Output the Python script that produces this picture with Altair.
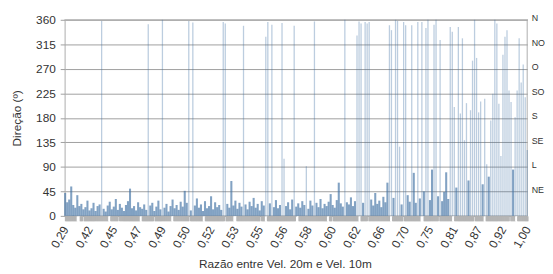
import altair as alt
import pandas as pd
import json

# Category labels shown on the x axis (sorted ratio values)
x_labels = ['0,29', '0,42', '0,45', '0,47', '0,49', '0,50', '0,52', '0,53', '0,55', '0,56',
            '0,58', '0,60', '0,62', '0,66', '0,70', '0,75', '0,81', '0,87', '0,92', '1,00']

# Wind direction (degrees) per record, in order of increasing ratio
direction = [
    42, 25, 30, 54, 20, 15, 38, 18, 22, 12,
    16, 28, 10, 14, 24, 9, 18, 21, 358, 13,
    8, 19, 26, 12, 17, 31, 11, 22, 15, 9,
    20, 27, 50, 14, 18, 10, 25, 16, 13, 21,
    11, 352, 19, 24, 9, 17, 28, 12, 360, 15,
    22, 8, 18, 30, 14, 20, 11, 26, 17, 46,
    24, 358, 10, 355, 19, 32, 15, 21, 9, 27,
    14, 18, 36, 12, 25, 16, 20, 11, 356, 353,
    22, 15, 64, 19, 28, 13, 24, 17, 349, 21,
    12, 26, 18, 33, 15, 22, 10, 27, 19, 329,
    356, 23, 351, 16, 29, 14, 20, 354, 105, 18,
    25, 12, 30, 349, 17, 23, 15, 27, 20, 91,
    13, 28, 19, 357, 24, 16, 31, 14, 22, 18,
    26, 40, 20, 15, 29, 61, 23, 17, 360, 25,
    21, 34, 18, 27, 331, 357, 353, 24, 356, 353,
    356, 30, 19, 42, 22, 28, 16, 35, 25, 61,
    350, 341, 33, 360, 358, 127, 21, 356, 350, 38,
    26, 350, 79, 24, 356, 32, 356, 45, 345, 360,
    29, 85, 351, 360, 36, 323, 27, 44, 80, 31,
    347, 338, 200, 52, 347, 188, 326, 139, 207, 65,
    194, 285, 360, 290, 190, 210, 58, 215, 95, 72,
    175, 224, 360, 353, 206, 110, 296, 329, 341, 230,
    209, 85, 181, 230, 326, 245, 278, 218, 121,
]

y_ticks = [0, 45, 90, 135, 180, 225, 270, 315, 360]
compass = ['', 'NE', 'L', 'SE', 'S', 'SO', 'O', 'NO', 'N']

n = len(direction)
step = (n - 1) // (len(x_labels) - 1)
df = pd.DataFrame({'idx': list(range(n)), 'dir': direction})

W, H = 469, 199
FONT = 'Liberation Sans'

# axis tick band (styling): dense grey ticks with periodic white gaps
tick_vals = [i * 0.5 for i in range(2 * (n - 1) + 1)]
px_per = W / (n - 1)
gaps = [(13.3 + 31.7 * k) / px_per for k in range(15)]
gap_test = ' || '.join(f'abs(datum.value-{g:.2f})<0.55' for g in gaps)

label_expr = (f"(datum.value % {step} == 0) ? {json.dumps(x_labels)}[datum.value/{step}] : ''")

x_axis = alt.Axis(
    values=tick_vals, labelExpr=label_expr, labelOverlap=False, labelAngle=-60,
    labelFontSize=12, labelColor='#333', labelPadding=6, labelFont=FONT,
    tickSize=5, tickWidth=1.6,
    tickColor=alt.ConditionalAxisColor(condition={'test': gap_test, 'value': '#ffffff'}, value='#b4b4b4'),
    domain=False, grid=False,
    title='Razão entre Vel. 20m e Vel. 10m', titleFontSize=12, titleFontWeight='normal',
    titleColor='#333', titleFont=FONT, titlePadding=9, titleX=223,
)
x_enc = alt.X('idx:Q', scale=alt.Scale(domain=[0, n - 1], nice=False, zero=False, padding=0),
              axis=x_axis)

y_scale = alt.Scale(domain=[0, 360], nice=False, padding=0)
left_axis = alt.Axis(
    values=y_ticks, grid=True, gridColor='#a0a0a0', gridWidth=1, tickSize=5, tickColor='#a0a0a0',
    domain=False, labelFontSize=12, labelColor='#333', labelPadding=5, labelFont=FONT,
    title='Direção (º)', titleFontSize=12, titleFontWeight='normal', titleColor='#333',
    titleFont=FONT, titlePadding=12,
)
right_axis = alt.Axis(
    orient='right', values=y_ticks, grid=False, ticks=False, domain=False,
    labelExpr=f"{json.dumps(compass)}[datum.value/45]", labelFontSize=9, labelColor='#333',
    labelPadding=4, labelFont=FONT, labelOffset=-2, title=None,
)

bars = alt.Chart(df).mark_bar(color='#3f70a3').encode(
    x=x_enc,
    y=alt.Y('dir:Q', scale=y_scale, axis=left_axis),
    size=alt.condition('datum.dir > 90', alt.value(1.3), alt.value(2.1)),
    opacity=alt.condition('datum.dir > 90', alt.value(0.35), alt.value(0.65)),
)
right = alt.Chart(df).mark_point(opacity=0).encode(
    x=x_enc,
    y=alt.Y('dir:Q', scale=y_scale, axis=right_axis),
)

chart = alt.layer(bars, right).resolve_axis(y='independent').properties(
    width=W, height=H, autosize='none',
    padding={'left': 58, 'top': 10, 'right': 18, 'bottom': 56},
).configure_view(stroke='#c8c8c8', strokeWidth=1.5)

chart.save('out.html', embed_options={'renderer': 'svg', 'actions': False})
